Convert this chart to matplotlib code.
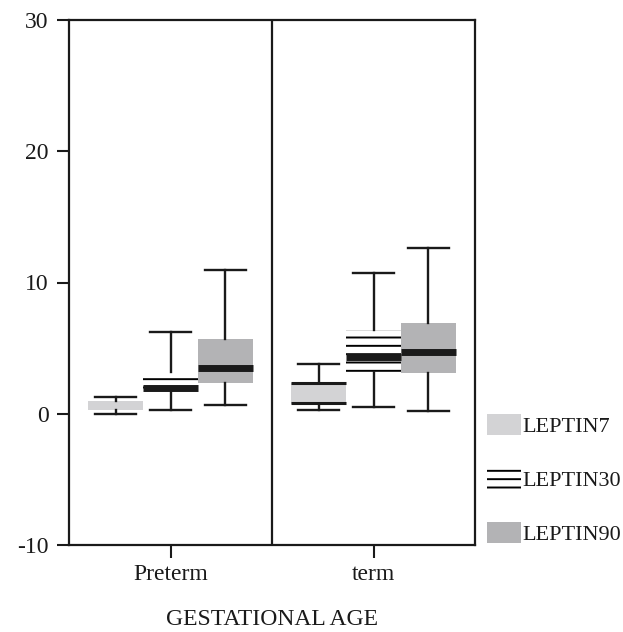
import numpy as np
import matplotlib
matplotlib.use('Agg')
import matplotlib.pyplot as plt
from matplotlib.patches import Patch

plt.rcParams['font.family'] = ['Liberation Serif', 'DejaVu Serif']
plt.rcParams['hatch.linewidth'] = 1.4
plt.rcParams['axes.unicode_minus'] = False

# Data (per group: LEPTIN7, LEPTIN30, LEPTIN90)
groups = ['Preterm', 'term']
series = ['LEPTIN7', 'LEPTIN30', 'LEPTIN90']
whislo = [[0.0, 0.25, 0.66], [0.25, 0.5, 0.23]]
q1 = [[0.25, 1.7, 2.37], [0.76, 3.2, 3.08]]
med = [[0.6, 1.95, 3.46], [0.8, 4.32, 4.67]]
q3 = [[1.0, 3.2, 5.73], [2.35, 6.36, 6.95]]
whishi = [[1.31, 6.2, 10.96], [3.76, 10.73, 12.6]]

face = {'LEPTIN7': '#d3d3d5', 'LEPTIN30': 'white', 'LEPTIN90': '#b3b3b5'}
hatch = {'LEPTIN7': None, 'LEPTIN30': '--', 'LEPTIN90': None}
ink = '#1a1a1a'

fig = plt.figure(figsize=(6.23, 6.32), dpi=100)
ax = fig.add_axes([69 / 623, 87 / 632, 406 / 623, 525 / 632])

offsets = [-0.27, 0.0, 0.27]
bw = 0.27
for gi, g in enumerate(groups):
    for si, s in enumerate(series):
        st = dict(whislo=whislo[gi][si], q1=q1[gi][si], med=med[gi][si],
                  q3=q3[gi][si], whishi=whishi[gi][si], fliers=[])
        pos = gi + 1 + offsets[si]
        bp = ax.bxp([st], positions=[pos], widths=bw,
                    capwidths=0.2, patch_artist=True, showfliers=False,
                    boxprops=dict(facecolor=face[s], edgecolor='black', lw=0),
                    medianprops=dict(color=ink, lw=5, solid_capstyle='butt'),
                    whiskerprops=dict(color=ink, lw=1.7),
                    capprops=dict(color=ink, lw=1.7),
                    manage_ticks=False)
        for b in bp['boxes']:
            if hatch[s]:
                b.set_hatch(hatch[s])
        if s == 'LEPTIN7':
            if g == 'Preterm':
                bp['medians'][0].set_visible(False)
            else:
                bp['medians'][0].set_linewidth(2.2)
                ax.hlines(q3[gi][si], pos - bw / 2, pos + bw / 2, color=ink, lw=2.2)

ax.axvline(1.5, color=ink, lw=1.6)
ax.set_xlim(0.5, 2.5)
ax.set_ylim(-10, 30)
ax.set_yticks([-10, 0, 10, 20, 30])
ax.set_xticks([1, 2])
ax.set_xticklabels(groups)
ax.tick_params(axis='both', labelsize=17, length=9, width=1.5, color=ink,
               labelcolor=ink)
ax.tick_params(axis='y', pad=5.5)
ax.tick_params(axis='x', pad=5)
for sp in ax.spines.values():
    sp.set_linewidth(1.6)
    sp.set_color(ink)
ax.set_xlabel('GESTATIONAL AGE', fontsize=17, color=ink, labelpad=17)

handles = [Patch(facecolor=face[s], edgecolor='black', lw=0, hatch=hatch[s])
           for s in series]
fig.legend(handles, series, loc='lower left', bbox_to_anchor=(487 / 623, 87 / 632),
           frameon=False, fontsize=16, handlelength=1.55, handleheight=1.08,
           handletextpad=0.05, labelspacing=1.4, borderaxespad=0, borderpad=0,
           labelcolor=ink)

fig.savefig('out.png', dpi=100)
